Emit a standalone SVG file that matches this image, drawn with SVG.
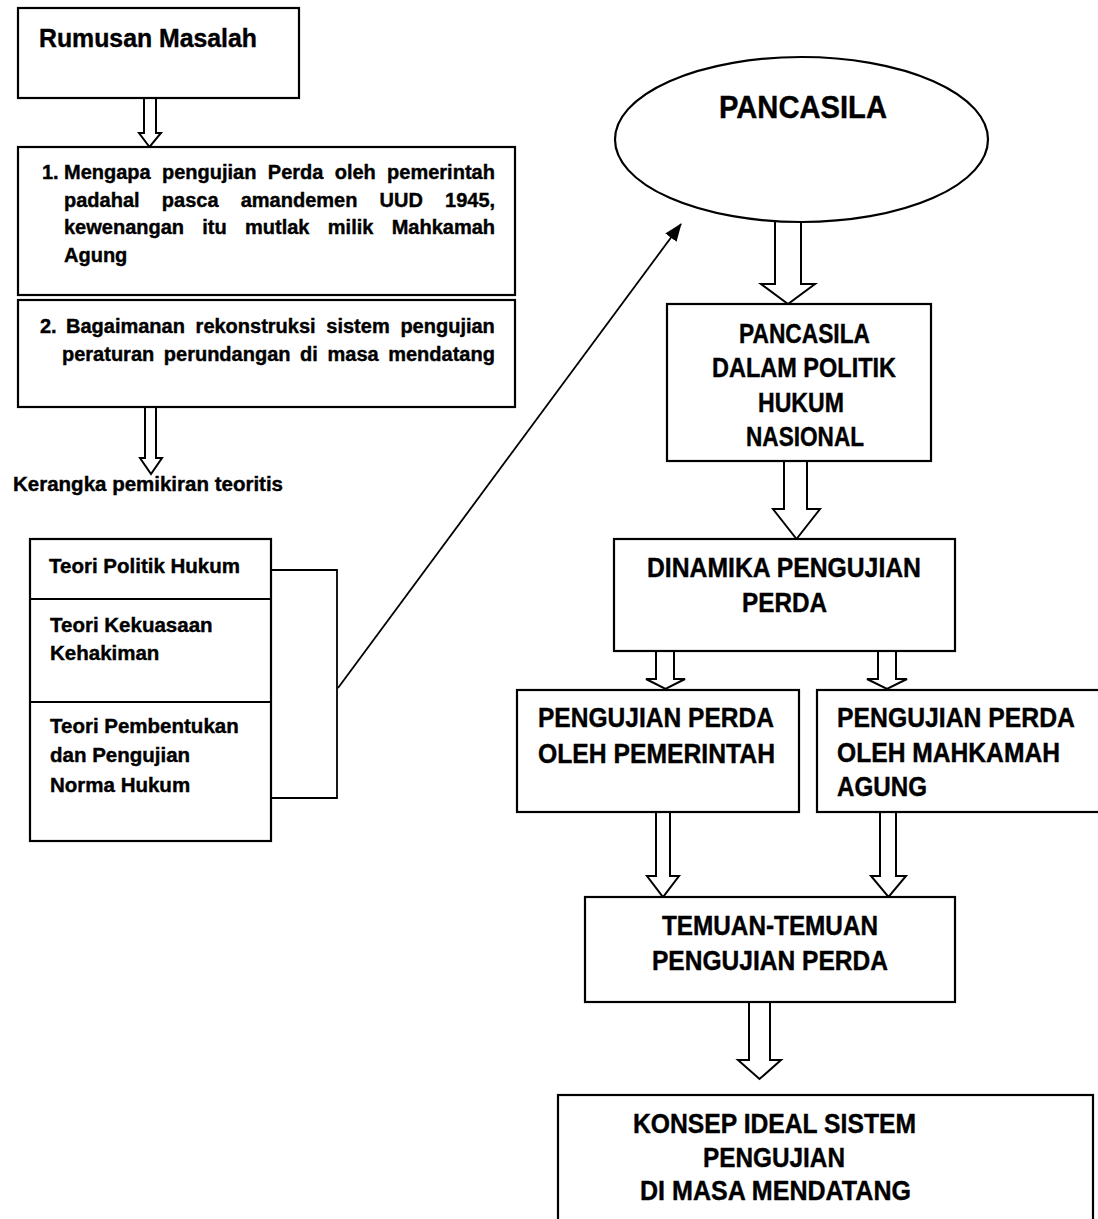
<svg xmlns="http://www.w3.org/2000/svg" width="1098" height="1219" viewBox="0 0 1098 1219">
  <style>
    .box { fill: #fff; stroke: #000; stroke-width: 2.2; }
    .blk { fill: #fff; stroke: #000; stroke-width: 2; stroke-linejoin: miter; }
    .ln { fill: none; stroke: #000; stroke-width: 1.8; }
    text { font-family: "Liberation Sans", Arial, sans-serif; font-weight: bold; fill: #000; stroke: #000; stroke-width: 0.4; }
    .t20 { font-size: 20px; }
    .t205 { font-size: 20.5px; }
    .t25 { font-size: 26px; }
    .t27 { font-size: 27px; }
    .t32 { font-size: 32px; }
  </style>
  <defs>
    <marker id="tip" markerUnits="userSpaceOnUse" markerWidth="18" markerHeight="14" refX="17" refY="7" orient="auto">
      <path d="M0,0 L18,7 L0,14 Z" fill="#000"/>
    </marker>
  </defs>

  <rect width="1098" height="1219" fill="#fff"/>

  <!-- connectors: hollow block arrows, bracket and the diagonal pointer -->
  <g id="connectors">
    <path class="blk" d="M144,98 V133 H139 L149.5,147 L161,133 H156 V98"/>
    <path class="blk" d="M145,407 V458 H140 L151,474 L162,458 H156 V407"/>
    <path class="blk" d="M775,222 V284 H761 L788,304 L815,284 H801 V222"/>
    <path class="blk" d="M784,461 V509 H773 L796.5,539 L820,509 H807 V461"/>
    <path class="blk" d="M656,651 V679 H646 L665.5,689 L685,679 H674 V651"/>
    <path class="blk" d="M878,651 V679 H867 L887,689 L907,679 H896 V651"/>
    <path class="blk" d="M656,812 V876 H647 L663,897 L679,876 H670 V812"/>
    <path class="blk" d="M880,812 V876 H871 L888.5,897 L906,876 H896 V812"/>
    <path class="blk" d="M749,1002 V1060 H738 L759.5,1079 L781,1060 H770 V1002"/>
    <polyline class="ln" points="271,570 337,570 337,798 271,798"/>
    <line class="ln" x1="338" y1="688" x2="681" y2="224" marker-end="url(#tip)"/>
  </g>

  <g id="rumusan">
    <rect class="box" x="18" y="8" width="281" height="90"/>
    <text class="t25" x="39" y="47" textLength="218" lengthAdjust="spacingAndGlyphs">Rumusan Masalah</text>
  </g>

  <g id="masalah-1">
    <rect class="box" x="18" y="147" width="497" height="148"/>
    <text class="t20" y="179"><tspan x="42">1.</tspan><tspan x="64">Mengapa</tspan><tspan x="162">pengujian</tspan><tspan x="267.8">Perda</tspan><tspan x="334.7">oleh</tspan><tspan x="387.1">pemerintah</tspan></text>
    <text class="t20" y="206.5"><tspan x="64">padahal</tspan><tspan x="161.8">pasca</tspan><tspan x="240.7">amandemen</tspan><tspan x="379.6">UUD</tspan><tspan x="445.1">1945,</tspan></text>
    <text class="t20" y="234"><tspan x="64">kewenangan</tspan><tspan x="202.3">itu</tspan><tspan x="245">mutlak</tspan><tspan x="327.8">milik</tspan><tspan x="391.7">Mahkamah</tspan></text>
    <text class="t20" x="64" y="261.5">Agung</text>
  </g>

  <g id="masalah-2">
    <rect class="box" x="18" y="300" width="497" height="107"/>
    <text class="t20" y="333"><tspan x="40">2.</tspan><tspan x="66">Bagaimanan</tspan><tspan x="195.6">rekonstruksi</tspan><tspan x="326.3">sistem</tspan><tspan x="400.4">pengujian</tspan></text>
    <text class="t20" y="361"><tspan x="62">peraturan</tspan><tspan x="163.8">perundangan</tspan><tspan x="300.1">di</tspan><tspan x="327.5">masa</tspan><tspan x="388.2">mendatang</tspan></text>
  </g>

  <g id="kerangka">
    <text class="t205" x="13" y="491">Kerangka pemikiran teoritis</text>
  </g>

  <g id="teori">
    <rect class="box" x="30" y="539" width="241" height="302"/>
    <line class="ln" x1="30" y1="599" x2="271" y2="599" style="stroke-width:2.2"/>
    <line class="ln" x1="30" y1="702" x2="271" y2="702" style="stroke-width:2.2"/>
    <text class="t205" x="49" y="573">Teori Politik Hukum</text>
    <text class="t205" x="50" y="632">Teori Kekuasaan</text>
    <text class="t205" x="50" y="660">Kehakiman</text>
    <text class="t205" x="50" y="733">Teori Pembentukan</text>
    <text class="t205" x="50" y="762">dan Pengujian</text>
    <text class="t205" x="50" y="792">Norma Hukum</text>
  </g>

  <g id="pancasila">
    <ellipse class="box" cx="801.5" cy="139.5" rx="186.5" ry="82.5"/>
    <text class="t32" x="719" y="118" textLength="168" lengthAdjust="spacingAndGlyphs">PANCASILA</text>
  </g>

  <g id="politik-hukum">
    <rect class="box" x="667" y="304" width="264" height="157"/>
    <text class="t27" x="739" y="343" textLength="131" lengthAdjust="spacingAndGlyphs">PANCASILA</text>
    <text class="t27" x="712" y="377" textLength="184" lengthAdjust="spacingAndGlyphs">DALAM POLITIK</text>
    <text class="t27" x="758" y="412" textLength="86" lengthAdjust="spacingAndGlyphs">HUKUM</text>
    <text class="t27" x="746" y="446" textLength="118" lengthAdjust="spacingAndGlyphs">NASIONAL</text>
  </g>

  <g id="dinamika">
    <rect class="box" x="614" y="539" width="341" height="112"/>
    <text class="t27" x="647" y="577" textLength="274" lengthAdjust="spacingAndGlyphs">DINAMIKA PENGUJIAN</text>
    <text class="t27" x="742" y="612" textLength="85" lengthAdjust="spacingAndGlyphs">PERDA</text>
  </g>

  <g id="uji-pemerintah">
    <rect class="box" x="517" y="690" width="282" height="122"/>
    <text class="t27" x="538" y="727" textLength="236" lengthAdjust="spacingAndGlyphs">PENGUJIAN PERDA</text>
    <text class="t27" x="538" y="763" textLength="237" lengthAdjust="spacingAndGlyphs">OLEH PEMERINTAH</text>
  </g>

  <g id="uji-ma">
    <rect class="box" x="817" y="690" width="300" height="122"/>
    <text class="t27" x="837" y="727" textLength="238" lengthAdjust="spacingAndGlyphs">PENGUJIAN PERDA</text>
    <text class="t27" x="837" y="762" textLength="223" lengthAdjust="spacingAndGlyphs">OLEH MAHKAMAH</text>
    <text class="t27" x="837" y="796" textLength="90" lengthAdjust="spacingAndGlyphs">AGUNG</text>
  </g>

  <g id="temuan">
    <rect class="box" x="585" y="897" width="370" height="105"/>
    <text class="t27" x="662" y="935" textLength="216" lengthAdjust="spacingAndGlyphs">TEMUAN-TEMUAN</text>
    <text class="t27" x="652" y="970" textLength="236" lengthAdjust="spacingAndGlyphs">PENGUJIAN PERDA</text>
  </g>

  <g id="konsep">
    <rect class="box" x="558" y="1095" width="535" height="140"/>
    <text class="t27" x="633" y="1133" textLength="283" lengthAdjust="spacingAndGlyphs">KONSEP IDEAL SISTEM</text>
    <text class="t27" x="703" y="1167" textLength="142" lengthAdjust="spacingAndGlyphs">PENGUJIAN</text>
    <text class="t27" x="640" y="1200" textLength="271" lengthAdjust="spacingAndGlyphs">DI MASA MENDATANG</text>
  </g>
</svg>
